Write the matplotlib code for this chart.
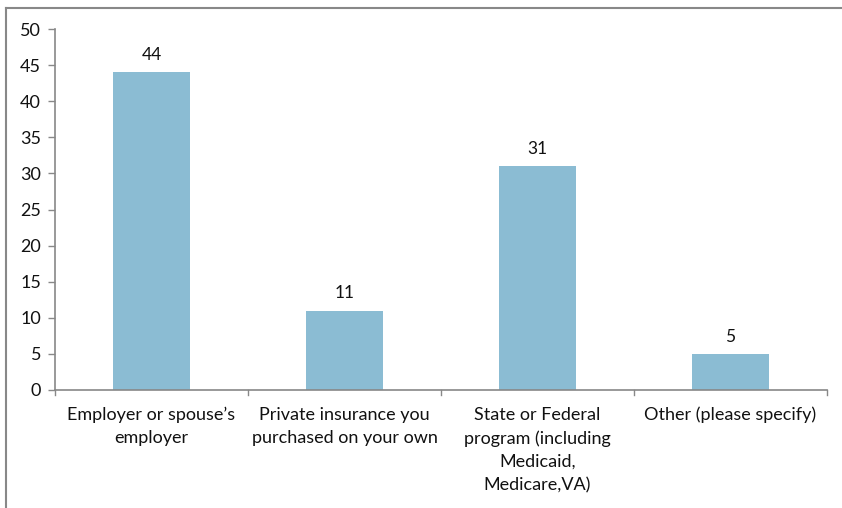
import matplotlib
matplotlib.use("Agg")
import matplotlib.pyplot as plt
from matplotlib.lines import Line2D

categories = ["Employer or spouse\u2019s\nemployer",
              "Private insurance you\npurchased on your own",
              "State or Federal\nprogram (including\nMedicaid,\nMedicare,VA)",
              "Other (please specify)"]
values = [44, 11, 31, 5]
yticks = [0, 5, 10, 15, 20, 25, 30, 35, 40, 45, 50]

plt.rcParams['font.family'] = ['Lato', 'DejaVu Sans']
W, H = 842, 508
fig = plt.figure(figsize=(W/100, H/100), dpi=100)
ax = fig.add_axes([55/W, (H-390)/H, (827-55)/W, (390-29)/H])

x = list(range(len(values)))
bars = ax.bar(x, values, width=0.4, color="#8BBCD3", zorder=2)
for xi, v in zip(x, values):
    ax.text(xi, v + 1.3, str(v), ha="center", va="bottom", fontsize=12.5, color="#111111")

ax.set_xlim(-0.5, len(values) - 0.5)
ax.set_ylim(0, 50)
ax.set_yticks(yticks)
ax.set_yticklabels([str(t) for t in yticks], fontsize=13, color="#111111")
ax.set_xticks(x)
ax.set_xticklabels(categories, fontsize=13, color="#111111", linespacing=1.55)
ax.tick_params(axis="x", length=0, pad=12)
ax.tick_params(axis="y", length=5, color="#888888", width=1, pad=5)
# boundary ticks on x
for b in [-0.5, 0.5, 1.5, 2.5, 3.5]:
    ax.plot([b, b], [0, -0.75], color="#888888", lw=1, clip_on=False, zorder=3)
for s in ["top", "right"]:
    ax.spines[s].set_visible(False)
for s in ["left", "bottom"]:
    ax.spines[s].set_color("#888888")
    ax.spines[s].set_linewidth(1.2)

# outer frame (top and left edges)
fig.add_artist(Line2D([6/W, 1], [1 - 8/H, 1 - 8/H], transform=fig.transFigure, color="#888888", lw=1.5))
fig.add_artist(Line2D([6/W, 6/W], [0, 1 - 8/H], transform=fig.transFigure, color="#888888", lw=1.5))

fig.savefig("out.png", dpi=100, facecolor="white")
